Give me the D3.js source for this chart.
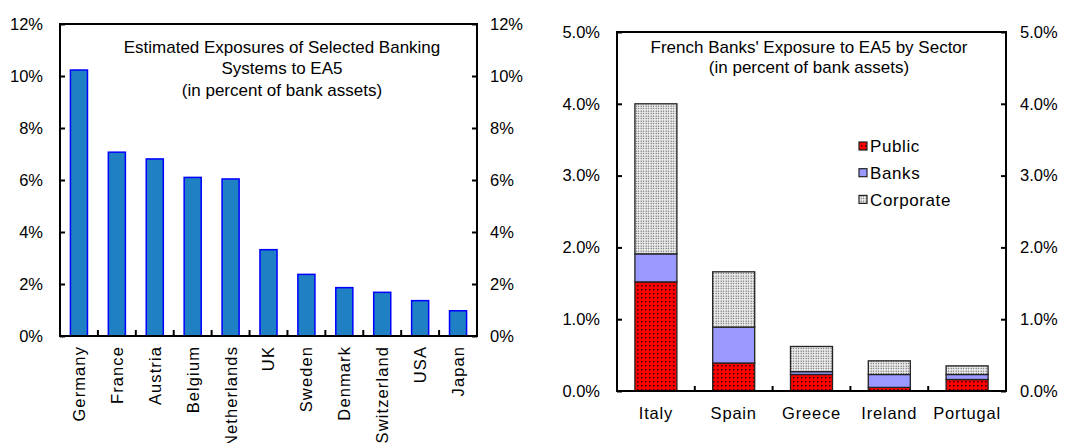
<!DOCTYPE html>
<html><head><meta charset="utf-8">
<script src="https://cdn.jsdelivr.net/npm/d3@7"></script>
<style>body{margin:0;background:#fff}svg{display:block;font-family:"Liberation Sans",Arial,sans-serif}</style>
</head><body>
<svg id="c" width="1068" height="443"></svg>
<script>
// Left chart data
const countries = ["Germany","France","Austria","Belgium","Netherlands","UK","Sweden","Denmark","Switzerland","USA","Japan"];
const exposure = [10.23,7.07,6.81,6.10,6.04,3.32,2.37,1.86,1.68,1.36,0.97];
const leftTicks = [0,2,4,6,8,10,12];
// Right chart data
const sectorCountries = ["Italy","Spain","Greece","Ireland","Portugal"];
const publicVals = [1.52,0.39,0.23,0.05,0.16];
const banksVals = [0.39,0.50,0.04,0.18,0.07];
const corporateVals = [2.09,0.77,0.35,0.19,0.12];
const sectors = ["Public","Banks","Corporate"];
const rightTicks = [0,1,2,3,4,5];

const svg = d3.select("#c");
const defs = svg.append("defs");
// patterns
const pp = defs.append("pattern").attr("id","pPublic").attr("patternUnits","userSpaceOnUse").attr("width",4).attr("height",4);
pp.append("rect").attr("width",4).attr("height",4).attr("fill","#ff0000");
pp.append("rect").attr("x",1).attr("y",1).attr("width",1.5).attr("height",1.5).attr("fill","#300");
const pc = defs.append("pattern").attr("id","pCorp").attr("patternUnits","userSpaceOnUse").attr("width",2.5).attr("height",2.5);
pc.append("rect").attr("width",2.5).attr("height",2.5).attr("fill","#eeeeee");
pc.append("rect").attr("x",0.6).attr("y",0.6).attr("width",1.1).attr("height",1.1).attr("fill","#444");
const fills = {Public:"url(#pPublic)",Banks:"#9999ff",Corporate:"url(#pCorp)"};

// ---------- Left chart ----------
const L = {x0:60,x1:477,y0:24,y1:336};
const xL = d3.scaleBand().domain(countries).range([L.x0,L.x1]).paddingInner(0.55).paddingOuter(0.275);
const yL = d3.scaleLinear().domain([0,12]).range([L.y1,L.y0]);
const gL = svg.append("g");
gL.selectAll("rect.bar").data(countries).join("rect").attr("class","bar")
  .attr("x",d=>xL(d)).attr("width",xL.bandwidth())
  .attr("y",(d,i)=>yL(exposure[i])).attr("height",(d,i)=>yL(0)-yL(exposure[i]))
  .attr("fill","#2080c4").attr("stroke","#0000ff").attr("stroke-width",1.5);
gL.append("rect").attr("x",L.x0).attr("y",L.y0).attr("width",L.x1-L.x0).attr("height",L.y1-L.y0)
  .attr("fill","none").attr("stroke","#000").attr("stroke-width",2);
gL.append("g").attr("transform",`translate(${L.x0},0)`)
  .call(d3.axisLeft(yL).tickValues(leftTicks).tickFormat(d=>d+"%").tickSizeInner(-5).tickSizeOuter(0).tickPadding(17));
gL.append("g").attr("transform",`translate(${L.x1},0)`)
  .call(d3.axisRight(yL).tickValues(leftTicks).tickFormat(d=>d+"%").tickSizeInner(-5).tickSizeOuter(0).tickPadding(13));
// category boundary ticks
gL.selectAll("line.ct").data(d3.range(1,countries.length)).join("line").attr("class","ct")
  .attr("x1",d=>L.x0+d*(L.x1-L.x0)/countries.length).attr("x2",d=>L.x0+d*(L.x1-L.x0)/countries.length)
  .attr("y1",L.y1).attr("y2",L.y1-6).attr("stroke","#000").attr("stroke-width",2);
gL.selectAll("text.xl").data(countries).join("text").attr("class","xl")
  .attr("transform",d=>`translate(${xL(d)+xL.bandwidth()/2},346) rotate(-90)`)
  .attr("text-anchor","end").attr("dy","0.36em").attr("font-size",16.5).attr("letter-spacing",1.1).text(d=>d);
const tL = gL.append("text").attr("text-anchor","middle").attr("font-size",17).attr("fill","#000");
[["Estimated Exposures of Selected Banking",53],["Systems to EA5",74],["(in percent of bank assets)",96]].forEach(([t,y])=>{
  tL.append("tspan").attr("x",282).attr("y",y).text(t);
});

// ---------- Right chart ----------
const R = {x0:617,x1:1006,y0:32,y1:391};
const xR = d3.scaleBand().domain(sectorCountries).range([R.x0,R.x1]).paddingInner(0.46).paddingOuter(0.23);
const yR = d3.scaleLinear().domain([0,5]).range([R.y1,R.y0]);
const gR = svg.append("g");
const stackData = sectorCountries.map((c,i)=>({country:c,Public:publicVals[i],Banks:banksVals[i],Corporate:corporateVals[i]}));
const series = d3.stack().keys(sectors)(stackData);
gR.selectAll("g.s").data(series).join("g").attr("class","s")
  .attr("fill",d=>fills[d.key])
  .selectAll("rect").data(d=>d).join("rect")
  .attr("x",d=>xR(d.data.country)).attr("width",xR.bandwidth())
  .attr("y",d=>yR(d[1])).attr("height",d=>yR(d[0])-yR(d[1]))
  .attr("stroke","#222").attr("stroke-width",1.3);
gR.append("rect").attr("x",R.x0).attr("y",R.y0).attr("width",R.x1-R.x0).attr("height",R.y1-R.y0)
  .attr("fill","none").attr("stroke","#000").attr("stroke-width",2);
gR.append("g").attr("transform",`translate(${R.x0},0)`)
  .call(d3.axisLeft(yR).tickValues(rightTicks).tickFormat(d=>d.toFixed(1)+"%").tickSizeInner(-5).tickSizeOuter(0).tickPadding(17));
gR.append("g").attr("transform",`translate(${R.x1},0)`)
  .call(d3.axisRight(yR).tickValues(rightTicks).tickFormat(d=>d.toFixed(1)+"%").tickSizeInner(-5).tickSizeOuter(0).tickPadding(14));
gR.selectAll("line.ct").data(d3.range(1,sectorCountries.length)).join("line").attr("class","ct")
  .attr("x1",d=>R.x0+d*(R.x1-R.x0)/sectorCountries.length).attr("x2",d=>R.x0+d*(R.x1-R.x0)/sectorCountries.length)
  .attr("y1",R.y1).attr("y2",R.y1-5).attr("stroke","#000").attr("stroke-width",2);
gR.selectAll("text.xl").data(sectorCountries).join("text").attr("class","xl")
  .attr("x",d=>xR(d)+xR.bandwidth()/2).attr("y",419).attr("text-anchor","middle")
  .attr("font-size",16.5).attr("letter-spacing",0.8).text(d=>d);
const tR = gR.append("text").attr("text-anchor","middle").attr("font-size",17).attr("fill","#000");
[["French Banks' Exposure to EA5 by Sector",53],["(in percent of  bank assets)",73]].forEach(([t,y])=>{
  tR.append("tspan").attr("x",809).attr("y",y).text(t);
});
// legend
const leg = gR.append("g");
sectors.forEach((s,i)=>{
  const y = 146 + i*26.7;
  leg.append("rect").attr("x",859).attr("y",y-4).attr("width",8).attr("height",8)
    .attr("fill",fills[s]).attr("stroke","#222").attr("stroke-width",1.2);
  leg.append("text").attr("x",870).attr("y",y).attr("dy","0.36em").attr("font-size",17).attr("letter-spacing",0.6).text(s);
});

// axis styling
svg.selectAll(".domain").remove();
svg.selectAll(".tick line").attr("stroke","#000").attr("stroke-width",2);
svg.selectAll(".tick text").attr("font-size",16.5).attr("fill","#000").attr("font-family","Liberation Sans, Arial, sans-serif");
</script>
</body></html>
